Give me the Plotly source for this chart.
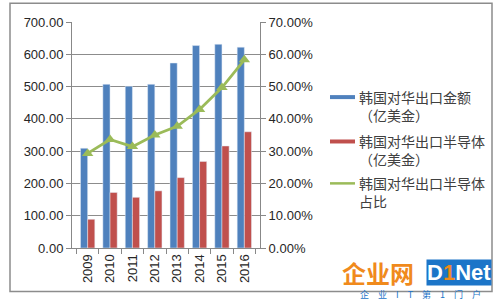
import plotly.graph_objects as go

years = ["2009", "2010", "2011", "2012", "2013", "2014", "2015", "2016"]
export_total = [309, 507, 501, 507, 573, 627, 631, 622]
export_semi = [89, 172, 157, 177, 218, 268, 316, 360]
semi_share = [0.293, 0.336, 0.314, 0.350, 0.377, 0.429, 0.497, 0.583]

names = ["韩国对华出口金额<br>（亿美金）", "韩国对华出口半导体<br>（亿美金）", "韩国对华出口半导体<br>占比"]
colors = ["#4F81BD", "#C0504D", "#9BBB59"]

fig = go.Figure()
fig.add_trace(go.Bar(x=years, y=export_total, marker_color=colors[0], name=names[0]))
fig.add_trace(go.Bar(x=years, y=export_semi, marker_color=colors[1], name=names[1]))
fig.add_trace(go.Scatter(x=years, y=semi_share, yaxis="y2", mode="lines+markers",
                         line=dict(color=colors[2], width=2.8),
                         marker=dict(symbol="triangle-up", size=10, color=colors[2]),
                         name=names[2]))

tickfont = dict(family="Liberation Sans, Arial", size=13, color="#262626")
cjk = "Noto Sans CJK SC"

fig.update_layout(
    width=500, height=302,
    margin=dict(l=72, r=240, t=22, b=54),
    paper_bgcolor="white", plot_bgcolor="white",
    showlegend=False,
    barmode="group", bargap=0.36, bargroupgap=0,
    xaxis=dict(tickangle=-90, tickfont=tickfont, showline=True, linecolor="#888888",
               ticks="outside", ticklen=5, tickcolor="#888888", tickson="boundaries",
               showgrid=False),
    yaxis=dict(range=[0, 700], dtick=100, tickformat=".2f", tickfont=tickfont,
               showgrid=True, gridcolor="#8C8C8C", gridwidth=1,
               showline=True, linecolor="#888888", ticks="outside", ticklen=5,
               tickcolor="#888888", zeroline=False),
    yaxis2=dict(range=[0, 0.7], dtick=0.1, tickformat=".2%", tickfont=tickfont,
                overlaying="y", side="right", showgrid=False,
                showline=True, linecolor="#888888", ticks="outside", ticklen=5,
                tickcolor="#888888", zeroline=False),
)

def px_x(px):
    return (px - 72) / 188.0

def px_y(py):
    return (248.3 - py) / 226.6

shapes = []
# outer frame
shapes.append(dict(type="rect", xref="paper", yref="paper",
                   x0=px_x(10), x1=px_x(492), y0=px_y(292), y1=px_y(3),
                   line=dict(color="#8C8C8C", width=1.5), fillcolor="rgba(0,0,0,0)", layer="below"))
# legend swatches
shapes.append(dict(type="rect", xref="paper", yref="paper", x0=px_x(330), x1=px_x(355),
                   y0=px_y(99), y1=px_y(95), fillcolor=colors[0], line=dict(width=0)))
shapes.append(dict(type="rect", xref="paper", yref="paper", x0=px_x(330), x1=px_x(355),
                   y0=px_y(143.5), y1=px_y(139.5), fillcolor=colors[1], line=dict(width=0)))
shapes.append(dict(type="line", xref="paper", yref="paper", x0=px_x(330), x1=px_x(355),
                   y0=px_y(183.5), y1=px_y(183.5), line=dict(color=colors[2], width=2.5)))
fig.update_layout(shapes=shapes)

fig.add_trace(go.Scatter(x=[px_x(342.5)], y=[px_y(183.5)], xaxis="x3", yaxis="y3",
                         mode="markers", marker=dict(symbol="triangle-up", size=6, color=colors[2]),
                         hoverinfo="skip"))
fig.update_layout(
    xaxis3=dict(overlaying="x", range=[0, 1], visible=False, domain=[0, 1]),
    yaxis3=dict(overlaying="y", range=[0, 1], visible=False),
)

anns = []
for name, py in zip(names, [106, 150.5, 192.5]):
    anns.append(dict(xref="paper", yref="paper", x=px_x(357), y=px_y(py), xanchor="left",
                     yanchor="middle", align="left", showarrow=False, text=name,
                     font=dict(family=cjk, size=14, color="#404040")))
# watermark
anns.append(dict(xref="paper", yref="paper", x=px_x(378), y=px_y(273), showarrow=False,
                 text="<b>企业网</b>", font=dict(family=cjk, size=24, color="#F08A1C"),
                 xanchor="center", yanchor="middle"))
anns.append(dict(xref="paper", yref="paper", x=px_x(459), y=px_y(273), showarrow=False,
                 text="<b>D<span style='color:#F08A1C'>1</span>Net</b>",
                 font=dict(family="Liberation Sans, Arial", size=22, color="white"),
                 bgcolor="#1C75C8", borderpad=0, xanchor="center", yanchor="middle"))
anns.append(dict(xref="paper", yref="paper", x=px_x(420), y=px_y(294.5), showarrow=False,
                 text="企　业　I　T　第　1　门　户",
                 font=dict(family=cjk, size=9, color="#1C75C8"),
                 xanchor="center", yanchor="middle"))
fig.update_layout(annotations=anns)

fig.write_html("out.html")
